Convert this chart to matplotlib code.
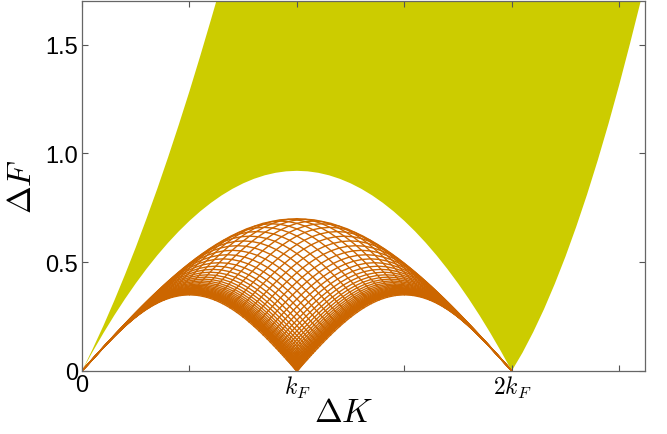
import numpy as np
import matplotlib.pyplot as plt

plt.rcParams['mathtext.fontset'] = 'cm'
plt.rcParams['font.family'] = ['Liberation Sans', 'DejaVu Sans']

# particle-hole continuum (yellow), momentum in units of k_F
q_upper = [0.0, 0.05, 0.1, 0.15, 0.2, 0.25, 0.3, 0.35, 0.4, 0.45, 0.5, 0.55, 0.6, 0.625]
e_upper = [0.0, 0.102, 0.209, 0.323, 0.443, 0.568, 0.700, 0.837, 0.981, 1.131,
           1.286, 1.448, 1.615, 1.70]

# lower edge, 0..k_F (the dome is mirror symmetric about k_F)
q_low_half = np.arange(0, 21) * 0.05
e_low_half = np.array([0.0, 0.0897, 0.1748, 0.2553, 0.3312, 0.4025, 0.4692, 0.5313,
                       0.5888, 0.6417, 0.6900, 0.7337, 0.7728, 0.8073, 0.8372,
                       0.8625, 0.8832, 0.8993, 0.9108, 0.9177, 0.9200])
# lower edge beyond 2k_F
q_low_tail = [2.05, 2.1, 2.15, 2.2, 2.25, 2.3, 2.35, 2.4, 2.45, 2.5, 2.55, 2.6]
e_low_tail = [0.084, 0.179, 0.284, 0.400, 0.526, 0.663, 0.810, 0.968, 1.136,
              1.315, 1.504, 1.70]

# spinon states (0..k_F/2), bunched towards the band edge like the dome's mesh
k_half = np.array([
    0.0, 0.00418, 0.00474, 0.00537, 0.00609, 0.00691, 0.00783, 0.00888, 0.01007,
    0.01141, 0.01294, 0.01467, 0.01664, 0.01887, 0.02139, 0.02425, 0.02749,
    0.03117, 0.03533, 0.04005, 0.04540, 0.05146, 0.05831, 0.06607, 0.07483,
    0.08475, 0.09593, 0.10854, 0.12273, 0.13866, 0.15656, 0.17651, 0.19875,
    0.22332, 0.25039, 0.27997, 0.31200, 0.34636, 0.38276, 0.42082, 0.46011, 0.5])
e_half = np.array([
    0.0, 0.00459, 0.00521, 0.00590, 0.00670, 0.00759, 0.00861, 0.00976, 0.01107,
    0.01255, 0.01423, 0.01613, 0.01829, 0.02073, 0.02350, 0.02664, 0.03019,
    0.03422, 0.03877, 0.04393, 0.04975, 0.05633, 0.06376, 0.07213, 0.08153,
    0.09208, 0.10389, 0.11705, 0.13164, 0.14772, 0.16529, 0.18430, 0.20459,
    0.22590, 0.24779, 0.26967, 0.29070, 0.31001, 0.32653, 0.33923, 0.34726, 0.35])

x_ticks = [0, 0.5, 1, 1.5, 2, 2.5]
x_ticklabels = ['0', '', r'$k_F$', '', r'$2k_F$', '']
y_ticks = [0, 0.5, 1.0, 1.5]
y_ticklabels = ['0', '0.5', '1.0', '1.5']

yellow = '#cccc00'
orange = '#cc6600'

# full branches from the symmetric halves
q_lower = np.concatenate([q_low_half, 2 - q_low_half[-2::-1], q_low_tail])
e_lower = np.concatenate([e_low_half, e_low_half[-2::-1], e_low_tail])
k_spinon = np.concatenate([k_half, 1 - k_half[-2::-1]])
e_spinon = np.concatenate([e_half, e_half[-2::-1]])

fig = plt.figure(figsize=(6.67, 4.35), dpi=100)
ax = fig.add_axes([0.123, 0.145, 0.844, 0.850])

# yellow continuum: left edge up to the top, then back along the lower edge
xs = np.concatenate([q_upper, q_lower[::-1]])
ys = np.concatenate([e_upper, e_lower[::-1]])
ax.fill(xs, ys, color=yellow, lw=0)

# two-spinon mesh: every pair (k1, k2) gives q = k1 + k2, E = e1 + e2
for i in range(len(k_spinon)):
    ax.plot(k_spinon[i] + k_spinon, e_spinon[i] + e_spinon,
            color=orange, lw=1.0)

ax.set_xlim(0, 2.62)
ax.set_ylim(0, 1.7)
ax.set_xticks(x_ticks)
ax.set_xticklabels(x_ticklabels)
ax.set_yticks(y_ticks)
ax.set_yticklabels(y_ticklabels)
for lab in ax.get_xticklabels():
    lab.set_fontsize(24 if '$' in lab.get_text() else 17)

ax.tick_params(direction='in', top=True, right=True, length=4, width=0.8,
               color='#555555', labelsize=17)
ax.tick_params(axis='x', pad=2)
ax.tick_params(axis='y', pad=3)
for sp in ax.spines.values():
    sp.set_color('#666666')
    sp.set_linewidth(0.9)

ax.set_xlabel(r'$\Delta K$', fontsize=24)
ax.set_ylabel(r'$\Delta F$', fontsize=24)
ax.xaxis.set_label_coords(0.465, -0.07)
ax.yaxis.set_label_coords(-0.078, 0.5)

fig.savefig('out.png', dpi=100)
